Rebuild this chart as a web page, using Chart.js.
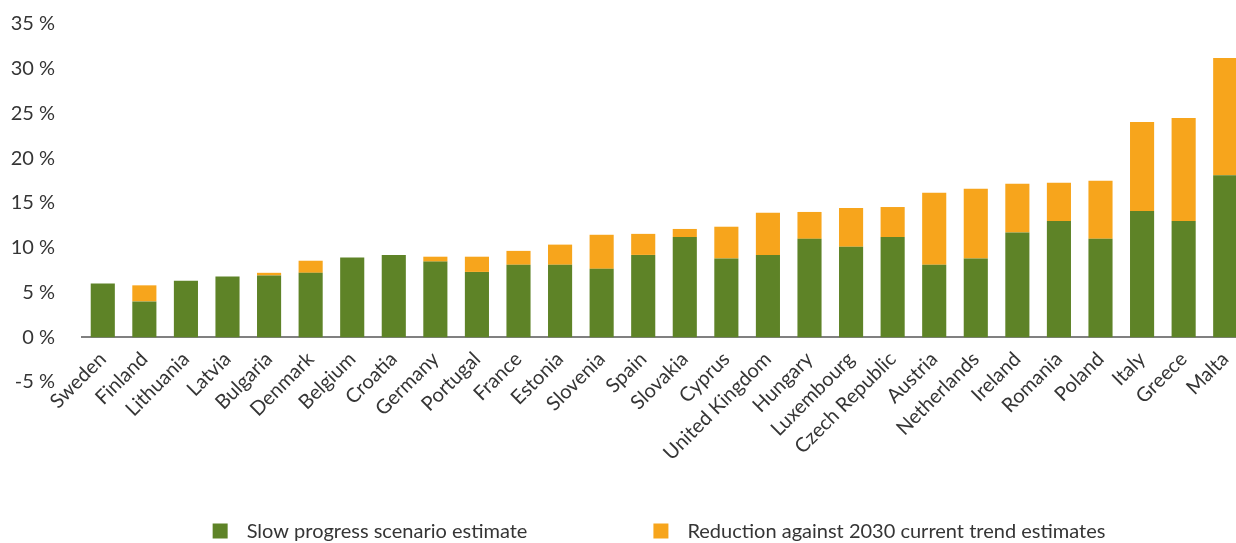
<!DOCTYPE html>
<html>
<head>
<meta charset="utf-8">
<script src="https://cdn.jsdelivr.net/npm/chart.js@4"></script>
<style>
  html, body { margin: 0; padding: 0; background: #fff; overflow: hidden; }
  #wrap { width: 1246px; height: 543px; }
</style>
</head>
<body>
<div id="wrap"><canvas id="chart" width="1246" height="543"></canvas></div>
<script>
/* data */
const COUNTRIES = [
  'Sweden', 'Finland', 'Lithuania', 'Latvia', 'Bulgaria', 'Denmark', 'Belgium',
  'Croatia', 'Germany', 'Portugal', 'France', 'Estonia', 'Slovenia', 'Spain',
  'Slovakia', 'Cyprus', 'United Kingdom', 'Hungary', 'Luxembourg', 'Czech Republic',
  'Austria', 'Netherlands', 'Ireland', 'Romania', 'Poland', 'Italy', 'Greece', 'Malta'
];

const SLOW_PROGRESS = [
  6.0, 4.0, 6.3, 6.8, 6.9, 7.2, 8.9,
  9.2, 8.45, 7.3, 8.1, 8.1, 7.65, 9.2,
  11.2, 8.8, 9.2, 11.0, 10.1, 11.2,
  8.1, 8.8, 11.7, 13.0, 11.0, 14.1, 13.0, 18.1
];

const REDUCTION = [
  0, 1.8, 0, 0, 0.3, 1.35, 0,
  0, 0.55, 1.7, 1.55, 2.25, 3.8, 2.35,
  0.9, 3.55, 4.7, 3.0, 4.35, 3.35,
  8.05, 7.8, 5.45, 4.25, 6.5, 9.95, 11.5, 13.1
];

const LABELS = ['Slow progress scenario estimate', 'Reduction against 2030 current trend estimates'];

const GREEN  = '#5e8327';
const ORANGE = '#f7a51c';
const TEXT   = '#353535';
const FONT   = { family: 'Lato', size: 20 };

/* legend drawn under the chart, spaced like the original */
const bottomLegend = {
  id: 'bottomLegend',
  afterDraw (chart) {
    const { ctx, chartArea } = chart;
    const box = 15, gap = 19, itemGap = 126, y = 531;
    ctx.save();
    ctx.font = `${FONT.size}px ${FONT.family}`;
    ctx.textBaseline = 'middle';
    const items = chart.data.datasets.map(ds => ({
      text : ds.label,
      color: ds.backgroundColor,
      w    : box + gap + ctx.measureText(ds.label).width
    }));
    const total = items.reduce((s, it) => s + it.w, 0) + itemGap * (items.length - 1);
    let x = (chartArea.left + chartArea.right) / 2 - total / 2 - 5;
    items.forEach(it => {
      ctx.fillStyle = it.color;
      ctx.fillRect(x, y - box / 2, box, box);
      ctx.fillStyle = TEXT;
      ctx.fillText(it.text, x + box + gap, y + 1);
      x += it.w + itemGap;
    });
    ctx.restore();
  }
};

new Chart(document.getElementById('chart'), {
  type: 'bar',
  data: {
    labels: COUNTRIES,
    datasets: [
      { label: LABELS[0], data: SLOW_PROGRESS, backgroundColor: GREEN },
      { label: LABELS[1], data: REDUCTION,     backgroundColor: ORANGE }
    ]
  },
  options: {
    responsive: false,
    animation: false,
    layout: { padding: { left: 0, top: 24, right: 0, bottom: 161 } },
    datasets: { bar: { categoryPercentage: 1, barPercentage: 0.58 } },
    scales: {
      x: {
        stacked: true,
        position: { y: 0 },
        grid: { display: false },
        border: { display: true, color: '#808080', width: 2 },
        afterFit (scale) { scale.paddingTop = 0; scale.paddingBottom = 0; },
        ticks: {
          autoSkip: false, minRotation: 45, maxRotation: 45,
          padding: 2, color: TEXT, font: FONT
        }
      },
      y: {
        stacked: true,
        min: -5, max: 35,
        grid: { display: false },
        border: { display: false },
        afterFit (scale) { scale.width = 82; scale.paddingTop = 0; scale.paddingBottom = 0; },
        ticks: {
          stepSize: 5, padding: 19, color: TEXT, font: FONT,
          callback: v => `${v} %`
        }
      }
    },
    plugins: {
      legend: { display: false },
      tooltip: { enabled: false }
    }
  },
  plugins: [bottomLegend]
});
</script>
</body>
</html>
